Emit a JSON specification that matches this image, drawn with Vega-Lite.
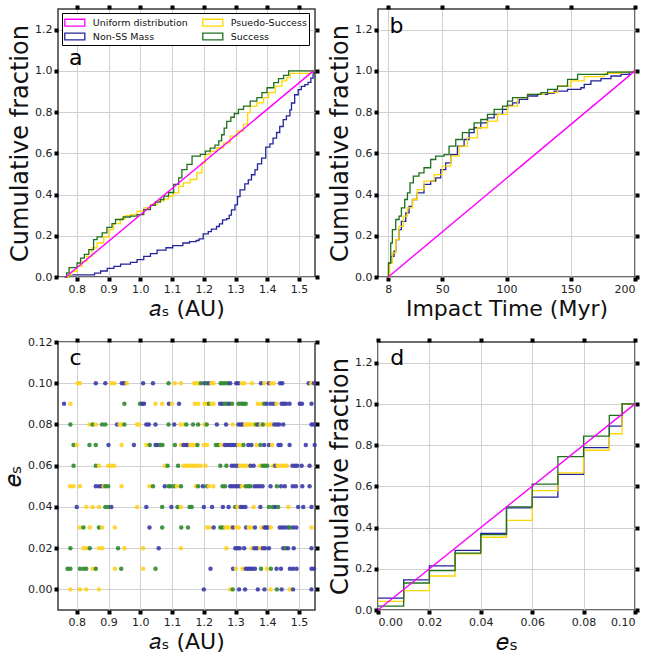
{
"$schema": "https://vega.github.io/schema/vega-lite/v6.json",
"padding": {"left": 0, "top": 2, "right": 0, "bottom": 0},
"background": "white",
"config": {
  "font": "DejaVu Sans",
  "view": {"stroke": "#3c3c3c", "strokeWidth": 1.5},
  "axis": {"labelFont": "DejaVu Sans", "labelFontSize": 11, "labelColor": "#222222", "titleFont": "DejaVu Sans", "titleFontWeight": "normal", "titleColor": "#111111", "gridColor": "#d0d0d0", "gridWidth": 1, "domain": false, "tickColor": "black", "tickSize": 4, "tickWidth": 4, "labelPadding": 2, "titlePadding": 2},
  "axisBottom": {"titlePadding": 4}
},
"datasets": {
  "cdfA": [
    {"x":0.762,"y":0,"series":"Non-SS Mass"},{"x":0.775,"y":0.010,"series":"Non-SS Mass"},{"x":0.856,"y":0.019,"series":"Non-SS Mass"},{"x":0.875,"y":0.029,"series":"Non-SS Mass"},{"x":0.896,"y":0.042,"series":"Non-SS Mass"},{"x":0.917,"y":0.052,"series":"Non-SS Mass"},{"x":0.938,"y":0.062,"series":"Non-SS Mass"},{"x":0.969,"y":0.071,"series":"Non-SS Mass"},{"x":0.990,"y":0.084,"series":"Non-SS Mass"},{"x":1.011,"y":0.100,"series":"Non-SS Mass"},{"x":1.032,"y":0.113,"series":"Non-SS Mass"},{"x":1.053,"y":0.130,"series":"Non-SS Mass"},{"x":1.081,"y":0.142,"series":"Non-SS Mass"},{"x":1.102,"y":0.152,"series":"Non-SS Mass"},{"x":1.134,"y":0.165,"series":"Non-SS Mass"},{"x":1.155,"y":0.172,"series":"Non-SS Mass"},{"x":1.176,"y":0.177,"series":"Non-SS Mass"},{"x":1.185,"y":0.185,"series":"Non-SS Mass"},{"x":1.198,"y":0.209,"series":"Non-SS Mass"},{"x":1.214,"y":0.220,"series":"Non-SS Mass"},{"x":1.224,"y":0.232,"series":"Non-SS Mass"},{"x":1.240,"y":0.245,"series":"Non-SS Mass"},{"x":1.249,"y":0.258,"series":"Non-SS Mass"},{"x":1.259,"y":0.277,"series":"Non-SS Mass"},{"x":1.272,"y":0.283,"series":"Non-SS Mass"},{"x":1.280,"y":0.300,"series":"Non-SS Mass"},{"x":1.287,"y":0.326,"series":"Non-SS Mass"},{"x":1.298,"y":0.350,"series":"Non-SS Mass"},{"x":1.306,"y":0.390,"series":"Non-SS Mass"},{"x":1.314,"y":0.423,"series":"Non-SS Mass"},{"x":1.329,"y":0.452,"series":"Non-SS Mass"},{"x":1.340,"y":0.471,"series":"Non-SS Mass"},{"x":1.350,"y":0.496,"series":"Non-SS Mass"},{"x":1.361,"y":0.520,"series":"Non-SS Mass"},{"x":1.369,"y":0.549,"series":"Non-SS Mass"},{"x":1.382,"y":0.577,"series":"Non-SS Mass"},{"x":1.395,"y":0.630,"series":"Non-SS Mass"},{"x":1.408,"y":0.646,"series":"Non-SS Mass"},{"x":1.418,"y":0.674,"series":"Non-SS Mass"},{"x":1.429,"y":0.701,"series":"Non-SS Mass"},{"x":1.439,"y":0.730,"series":"Non-SS Mass"},{"x":1.450,"y":0.763,"series":"Non-SS Mass"},{"x":1.460,"y":0.782,"series":"Non-SS Mass"},{"x":1.471,"y":0.811,"series":"Non-SS Mass"},{"x":1.476,"y":0.844,"series":"Non-SS Mass"},{"x":1.486,"y":0.884,"series":"Non-SS Mass"},{"x":1.497,"y":0.909,"series":"Non-SS Mass"},{"x":1.507,"y":0.925,"series":"Non-SS Mass"},{"x":1.518,"y":0.933,"series":"Non-SS Mass"},{"x":1.528,"y":0.944,"series":"Non-SS Mass"},{"x":1.537,"y":0.965,"series":"Non-SS Mass"},{"x":1.544,"y":0.990,"series":"Non-SS Mass"},{"x":1.549,"y":1.0,"series":"Non-SS Mass"},
    {"x":0.765,"y":0,"series":"Psuedo-Success"},{"x":0.775,"y":0.012,"series":"Psuedo-Success"},{"x":0.785,"y":0.027,"series":"Psuedo-Success"},{"x":0.801,"y":0.052,"series":"Psuedo-Success"},{"x":0.817,"y":0.076,"series":"Psuedo-Success"},{"x":0.832,"y":0.100,"series":"Psuedo-Success"},{"x":0.848,"y":0.141,"series":"Psuedo-Success"},{"x":0.864,"y":0.165,"series":"Psuedo-Success"},{"x":0.885,"y":0.194,"series":"Psuedo-Success"},{"x":0.901,"y":0.230,"series":"Psuedo-Success"},{"x":0.916,"y":0.259,"series":"Psuedo-Success"},{"x":0.937,"y":0.282,"series":"Psuedo-Success"},{"x":0.953,"y":0.298,"series":"Psuedo-Success"},{"x":0.969,"y":0.303,"series":"Psuedo-Success"},{"x":0.990,"y":0.319,"series":"Psuedo-Success"},{"x":1.011,"y":0.335,"series":"Psuedo-Success"},{"x":1.032,"y":0.351,"series":"Psuedo-Success"},{"x":1.053,"y":0.368,"series":"Psuedo-Success"},{"x":1.074,"y":0.379,"series":"Psuedo-Success"},{"x":1.089,"y":0.392,"series":"Psuedo-Success"},{"x":1.105,"y":0.408,"series":"Psuedo-Success"},{"x":1.121,"y":0.440,"series":"Psuedo-Success"},{"x":1.136,"y":0.457,"series":"Psuedo-Success"},{"x":1.157,"y":0.473,"series":"Psuedo-Success"},{"x":1.178,"y":0.505,"series":"Psuedo-Success"},{"x":1.194,"y":0.554,"series":"Psuedo-Success"},{"x":1.205,"y":0.594,"series":"Psuedo-Success"},{"x":1.220,"y":0.611,"series":"Psuedo-Success"},{"x":1.241,"y":0.627,"series":"Psuedo-Success"},{"x":1.262,"y":0.651,"series":"Psuedo-Success"},{"x":1.283,"y":0.683,"series":"Psuedo-Success"},{"x":1.304,"y":0.708,"series":"Psuedo-Success"},{"x":1.325,"y":0.740,"series":"Psuedo-Success"},{"x":1.338,"y":0.797,"series":"Psuedo-Success"},{"x":1.346,"y":0.829,"series":"Psuedo-Success"},{"x":1.367,"y":0.845,"series":"Psuedo-Success"},{"x":1.388,"y":0.870,"series":"Psuedo-Success"},{"x":1.404,"y":0.894,"series":"Psuedo-Success"},{"x":1.425,"y":0.926,"series":"Psuedo-Success"},{"x":1.446,"y":0.951,"series":"Psuedo-Success"},{"x":1.461,"y":0.967,"series":"Psuedo-Success"},{"x":1.472,"y":0.988,"series":"Psuedo-Success"},{"x":1.540,"y":1.0,"series":"Psuedo-Success"},{"x":1.55,"y":1.0,"series":"Psuedo-Success"},
    {"x":0.764,"y":0,"series":"Success"},{"x":0.768,"y":0.020,"series":"Success"},{"x":0.776,"y":0.045,"series":"Success"},{"x":0.801,"y":0.068,"series":"Success"},{"x":0.812,"y":0.092,"series":"Success"},{"x":0.824,"y":0.110,"series":"Success"},{"x":0.838,"y":0.133,"series":"Success"},{"x":0.853,"y":0.181,"series":"Success"},{"x":0.864,"y":0.195,"series":"Success"},{"x":0.880,"y":0.214,"series":"Success"},{"x":0.895,"y":0.241,"series":"Success"},{"x":0.911,"y":0.259,"series":"Success"},{"x":0.922,"y":0.279,"series":"Success"},{"x":0.946,"y":0.291,"series":"Success"},{"x":0.969,"y":0.295,"series":"Success"},{"x":0.990,"y":0.303,"series":"Success"},{"x":1.011,"y":0.327,"series":"Success"},{"x":1.032,"y":0.347,"series":"Success"},{"x":1.047,"y":0.363,"series":"Success"},{"x":1.063,"y":0.376,"series":"Success"},{"x":1.074,"y":0.392,"series":"Success"},{"x":1.089,"y":0.410,"series":"Success"},{"x":1.105,"y":0.449,"series":"Success"},{"x":1.121,"y":0.481,"series":"Success"},{"x":1.131,"y":0.521,"series":"Success"},{"x":1.147,"y":0.546,"series":"Success"},{"x":1.163,"y":0.586,"series":"Success"},{"x":1.189,"y":0.595,"series":"Success"},{"x":1.205,"y":0.611,"series":"Success"},{"x":1.220,"y":0.625,"series":"Success"},{"x":1.235,"y":0.640,"series":"Success"},{"x":1.247,"y":0.660,"series":"Success"},{"x":1.256,"y":0.690,"series":"Success"},{"x":1.264,"y":0.722,"series":"Success"},{"x":1.272,"y":0.755,"series":"Success"},{"x":1.285,"y":0.775,"series":"Success"},{"x":1.296,"y":0.793,"series":"Success"},{"x":1.309,"y":0.813,"series":"Success"},{"x":1.325,"y":0.829,"series":"Success"},{"x":1.346,"y":0.853,"series":"Success"},{"x":1.367,"y":0.870,"series":"Success"},{"x":1.383,"y":0.894,"series":"Success"},{"x":1.399,"y":0.918,"series":"Success"},{"x":1.420,"y":0.943,"series":"Success"},{"x":1.435,"y":0.962,"series":"Success"},{"x":1.451,"y":0.978,"series":"Success"},{"x":1.467,"y":1.0,"series":"Success"},{"x":1.55,"y":1.0,"series":"Success"}
  ],
  "uniA": [{"x":0.765,"y":0,"series":"Uniform distribution"},{"x":1.545,"y":1.0,"series":"Uniform distribution"}],
  "cdfB": [
    {"x":7.6,"y":0,"series":"Non-SS Mass"},{"x":8.6,"y":0.068,"series":"Non-SS Mass"},{"x":9.9,"y":0.1,"series":"Non-SS Mass"},{"x":12.5,"y":0.125,"series":"Non-SS Mass"},{"x":13.8,"y":0.181,"series":"Non-SS Mass"},{"x":16.4,"y":0.23,"series":"Non-SS Mass"},{"x":18.2,"y":0.27,"series":"Non-SS Mass"},{"x":21.6,"y":0.311,"series":"Non-SS Mass"},{"x":24.2,"y":0.343,"series":"Non-SS Mass"},{"x":26.8,"y":0.376,"series":"Non-SS Mass"},{"x":30.6,"y":0.408,"series":"Non-SS Mass"},{"x":35.8,"y":0.449,"series":"Non-SS Mass"},{"x":41,"y":0.465,"series":"Non-SS Mass"},{"x":44.9,"y":0.481,"series":"Non-SS Mass"},{"x":48.8,"y":0.521,"series":"Non-SS Mass"},{"x":52.7,"y":0.554,"series":"Non-SS Mass"},{"x":56.6,"y":0.594,"series":"Non-SS Mass"},{"x":61.8,"y":0.635,"series":"Non-SS Mass"},{"x":67,"y":0.667,"series":"Non-SS Mass"},{"x":70.9,"y":0.7,"series":"Non-SS Mass"},{"x":74.8,"y":0.724,"series":"Non-SS Mass"},{"x":80,"y":0.748,"series":"Non-SS Mass"},{"x":85.2,"y":0.772,"series":"Non-SS Mass"},{"x":90.4,"y":0.789,"series":"Non-SS Mass"},{"x":96.9,"y":0.813,"series":"Non-SS Mass"},{"x":100.8,"y":0.832,"series":"Non-SS Mass"},{"x":104.7,"y":0.845,"series":"Non-SS Mass"},{"x":109.9,"y":0.862,"series":"Non-SS Mass"},{"x":116.4,"y":0.878,"series":"Non-SS Mass"},{"x":124.2,"y":0.886,"series":"Non-SS Mass"},{"x":132,"y":0.891,"series":"Non-SS Mass"},{"x":137.1,"y":0.902,"series":"Non-SS Mass"},{"x":147.5,"y":0.91,"series":"Non-SS Mass"},{"x":157.9,"y":0.918,"series":"Non-SS Mass"},{"x":160.5,"y":0.934,"series":"Non-SS Mass"},{"x":165.7,"y":0.951,"series":"Non-SS Mass"},{"x":173.5,"y":0.962,"series":"Non-SS Mass"},{"x":181.3,"y":0.975,"series":"Non-SS Mass"},{"x":189.1,"y":0.983,"series":"Non-SS Mass"},{"x":195.6,"y":0.994,"series":"Non-SS Mass"},{"x":199.5,"y":1.0,"series":"Non-SS Mass"},{"x":200,"y":1.0,"series":"Non-SS Mass"},
    {"x":7.6,"y":0,"series":"Psuedo-Success"},{"x":9.1,"y":0.068,"series":"Psuedo-Success"},{"x":11.2,"y":0.117,"series":"Psuedo-Success"},{"x":13.8,"y":0.181,"series":"Psuedo-Success"},{"x":16.4,"y":0.246,"series":"Psuedo-Success"},{"x":19.7,"y":0.295,"series":"Psuedo-Success"},{"x":22.9,"y":0.335,"series":"Psuedo-Success"},{"x":26.8,"y":0.376,"series":"Psuedo-Success"},{"x":30.6,"y":0.424,"series":"Psuedo-Success"},{"x":35.8,"y":0.465,"series":"Psuedo-Success"},{"x":43.6,"y":0.497,"series":"Psuedo-Success"},{"x":50.1,"y":0.538,"series":"Psuedo-Success"},{"x":56.6,"y":0.586,"series":"Psuedo-Success"},{"x":63.1,"y":0.635,"series":"Psuedo-Success"},{"x":69.6,"y":0.675,"series":"Psuedo-Success"},{"x":77.4,"y":0.724,"series":"Psuedo-Success"},{"x":85.2,"y":0.756,"series":"Psuedo-Success"},{"x":93,"y":0.789,"series":"Psuedo-Success"},{"x":100.8,"y":0.829,"series":"Psuedo-Success"},{"x":108.6,"y":0.87,"series":"Psuedo-Success"},{"x":116.4,"y":0.886,"series":"Psuedo-Success"},{"x":129.4,"y":0.894,"series":"Psuedo-Success"},{"x":139.7,"y":0.926,"series":"Psuedo-Success"},{"x":150.1,"y":0.951,"series":"Psuedo-Success"},{"x":160.5,"y":0.972,"series":"Psuedo-Success"},{"x":176.1,"y":0.988,"series":"Psuedo-Success"},{"x":189.1,"y":0.994,"series":"Psuedo-Success"},{"x":200,"y":1.0,"series":"Psuedo-Success"},
    {"x":7.6,"y":0,"series":"Success"},{"x":8.1,"y":0.068,"series":"Success"},{"x":9.9,"y":0.165,"series":"Success"},{"x":11.2,"y":0.23,"series":"Success"},{"x":13.8,"y":0.279,"series":"Success"},{"x":16.4,"y":0.295,"series":"Success"},{"x":18.2,"y":0.335,"series":"Success"},{"x":20.8,"y":0.376,"series":"Success"},{"x":22.9,"y":0.408,"series":"Success"},{"x":24.9,"y":0.457,"series":"Success"},{"x":27.5,"y":0.489,"series":"Success"},{"x":31.9,"y":0.505,"series":"Success"},{"x":35.8,"y":0.53,"series":"Success"},{"x":41,"y":0.57,"series":"Success"},{"x":44.9,"y":0.586,"series":"Success"},{"x":51.4,"y":0.594,"series":"Success"},{"x":55.3,"y":0.635,"series":"Success"},{"x":60.5,"y":0.667,"series":"Success"},{"x":65.7,"y":0.7,"series":"Success"},{"x":70.9,"y":0.716,"series":"Success"},{"x":74.8,"y":0.748,"series":"Success"},{"x":80,"y":0.764,"series":"Success"},{"x":85.2,"y":0.789,"series":"Success"},{"x":90.4,"y":0.813,"series":"Success"},{"x":96.9,"y":0.829,"series":"Success"},{"x":100.8,"y":0.853,"series":"Success"},{"x":104.7,"y":0.87,"series":"Success"},{"x":116.4,"y":0.886,"series":"Success"},{"x":126.8,"y":0.894,"series":"Success"},{"x":132,"y":0.91,"series":"Success"},{"x":139.7,"y":0.926,"series":"Success"},{"x":147.5,"y":0.959,"series":"Success"},{"x":155.3,"y":0.983,"series":"Success"},{"x":178.7,"y":0.994,"series":"Success"},{"x":200,"y":1.0,"series":"Success"}
  ],
  "uniB": [{"x":8,"y":0,"series":"Uniform distribution"},{"x":200,"y":1.0,"series":"Uniform distribution"}],
  "cdfD": [
    {"x":0,"y":0.058,"series":"Non-SS Mass"},{"x":0.01,"y":0.146,"series":"Non-SS Mass"},{"x":0.02,"y":0.214,"series":"Non-SS Mass"},{"x":0.03,"y":0.289,"series":"Non-SS Mass"},{"x":0.04,"y":0.371,"series":"Non-SS Mass"},{"x":0.05,"y":0.495,"series":"Non-SS Mass"},{"x":0.06,"y":0.548,"series":"Non-SS Mass"},{"x":0.07,"y":0.658,"series":"Non-SS Mass"},{"x":0.08,"y":0.788,"series":"Non-SS Mass"},{"x":0.09,"y":0.892,"series":"Non-SS Mass"},{"x":0.095,"y":1.0,"series":"Non-SS Mass"},{"x":0.1,"y":1.0,"series":"Non-SS Mass"},
    {"x":0,"y":0.042,"series":"Psuedo-Success"},{"x":0.01,"y":0.094,"series":"Psuedo-Success"},{"x":0.02,"y":0.165,"series":"Psuedo-Success"},{"x":0.03,"y":0.272,"series":"Psuedo-Success"},{"x":0.04,"y":0.353,"series":"Psuedo-Success"},{"x":0.05,"y":0.435,"series":"Psuedo-Success"},{"x":0.06,"y":0.579,"series":"Psuedo-Success"},{"x":0.07,"y":0.665,"series":"Psuedo-Success"},{"x":0.08,"y":0.775,"series":"Psuedo-Success"},{"x":0.09,"y":0.855,"series":"Psuedo-Success"},{"x":0.095,"y":1.0,"series":"Psuedo-Success"},{"x":0.1,"y":1.0,"series":"Psuedo-Success"},
    {"x":0,"y":0.019,"series":"Success"},{"x":0.01,"y":0.131,"series":"Success"},{"x":0.02,"y":0.191,"series":"Success"},{"x":0.03,"y":0.276,"series":"Success"},{"x":0.04,"y":0.366,"series":"Success"},{"x":0.05,"y":0.5,"series":"Success"},{"x":0.06,"y":0.611,"series":"Success"},{"x":0.07,"y":0.744,"series":"Success"},{"x":0.08,"y":0.843,"series":"Success"},{"x":0.09,"y":0.944,"series":"Success"},{"x":0.095,"y":1.0,"series":"Success"},{"x":0.1,"y":1.0,"series":"Success"}
  ],
  "uniD": [{"x":0,"y":0,"series":"Uniform distribution"},{"x":0.1,"y":1.0,"series":"Uniform distribution"}],
  "scatter": [
    {"a":0.803,"e":0.10,"s":"Psuedo-Success"},{"a":0.810,"e":0.10,"s":"Psuedo-Success"},{"a":0.860,"e":0.10,"s":"Non-SS Mass"},{"a":0.890,"e":0.10,"s":"Non-SS Mass"},{"a":0.909,"e":0.10,"s":"Psuedo-Success"},{"a":0.918,"e":0.10,"s":"Psuedo-Success"},{"a":0.942,"e":0.10,"s":"Non-SS Mass"},{"a":0.950,"e":0.10,"s":"Non-SS Mass"},{"a":0.958,"e":0.10,"s":"Psuedo-Success"},{"a":1.009,"e":0.10,"s":"Non-SS Mass"},{"a":1.040,"e":0.10,"s":"Non-SS Mass"},{"a":1.089,"e":0.10,"s":"Success"},{"a":1.109,"e":0.10,"s":"Psuedo-Success"},{"a":1.128,"e":0.10,"s":"Psuedo-Success"},
    {"a":1.170,"e":0.10,"s":"Psuedo-Success"},{"a":1.177,"e":0.10,"s":"Psuedo-Success"},{"a":1.184,"e":0.10,"s":"Psuedo-Success"},{"a":1.191,"e":0.10,"s":"Success"},{"a":1.202,"e":0.10,"s":"Non-SS Mass"},{"a":1.209,"e":0.10,"s":"Success"},{"a":1.216,"e":0.10,"s":"Non-SS Mass"},{"a":1.224,"e":0.10,"s":"Psuedo-Success"},{"a":1.231,"e":0.10,"s":"Psuedo-Success"},{"a":1.253,"e":0.10,"s":"Success"},{"a":1.260,"e":0.10,"s":"Success"},{"a":1.268,"e":0.10,"s":"Success"},{"a":1.276,"e":0.10,"s":"Success"},{"a":1.283,"e":0.10,"s":"Non-SS Mass"},{"a":1.302,"e":0.10,"s":"Non-SS Mass"},{"a":1.309,"e":0.10,"s":"Non-SS Mass"},{"a":1.320,"e":0.10,"s":"Psuedo-Success"},{"a":1.328,"e":0.10,"s":"Psuedo-Success"},{"a":1.351,"e":0.10,"s":"Psuedo-Success"},{"a":1.380,"e":0.10,"s":"Non-SS Mass"},{"a":1.391,"e":0.10,"s":"Psuedo-Success"},{"a":1.405,"e":0.10,"s":"Non-SS Mass"},{"a":1.412,"e":0.10,"s":"Psuedo-Success"},{"a":1.420,"e":0.10,"s":"Psuedo-Success"},{"a":1.440,"e":0.10,"s":"Non-SS Mass"},{"a":1.447,"e":0.10,"s":"Non-SS Mass"},{"a":1.530,"e":0.10,"s":"Non-SS Mass"},{"a":1.538,"e":0.10,"s":"Psuedo-Success"},{"a":1.547,"e":0.10,"s":"Non-SS Mass"},
    {"a":0.760,"e":0.09,"s":"Non-SS Mass"},{"a":0.780,"e":0.09,"s":"Psuedo-Success"},{"a":0.950,"e":0.09,"s":"Success"},{"a":0.999,"e":0.09,"s":"Success"},{"a":1.006,"e":0.09,"s":"Non-SS Mass"},{"a":1.012,"e":0.09,"s":"Non-SS Mass"},{"a":1.048,"e":0.09,"s":"Psuedo-Success"},{"a":1.069,"e":0.09,"s":"Psuedo-Success"},{"a":1.090,"e":0.09,"s":"Non-SS Mass"},{"a":1.100,"e":0.09,"s":"Psuedo-Success"},{"a":1.122,"e":0.09,"s":"Non-SS Mass"},
    {"a":1.172,"e":0.09,"s":"Psuedo-Success"},{"a":1.182,"e":0.09,"s":"Psuedo-Success"},{"a":1.202,"e":0.09,"s":"Psuedo-Success"},{"a":1.209,"e":0.09,"s":"Psuedo-Success"},{"a":1.216,"e":0.09,"s":"Success"},{"a":1.224,"e":0.09,"s":"Psuedo-Success"},{"a":1.231,"e":0.09,"s":"Psuedo-Success"},{"a":1.251,"e":0.09,"s":"Non-SS Mass"},{"a":1.258,"e":0.09,"s":"Non-SS Mass"},{"a":1.266,"e":0.09,"s":"Success"},{"a":1.273,"e":0.09,"s":"Success"},{"a":1.280,"e":0.09,"s":"Non-SS Mass"},{"a":1.289,"e":0.09,"s":"Success"},{"a":1.309,"e":0.09,"s":"Success"},{"a":1.318,"e":0.09,"s":"Success"},{"a":1.325,"e":0.09,"s":"Success"},{"a":1.332,"e":0.09,"s":"Success"},{"a":1.370,"e":0.09,"s":"Psuedo-Success"},{"a":1.380,"e":0.09,"s":"Psuedo-Success"},{"a":1.390,"e":0.09,"s":"Success"},{"a":1.398,"e":0.09,"s":"Non-SS Mass"},{"a":1.410,"e":0.09,"s":"Non-SS Mass"},{"a":1.420,"e":0.09,"s":"Non-SS Mass"},{"a":1.429,"e":0.09,"s":"Psuedo-Success"},{"a":1.445,"e":0.09,"s":"Non-SS Mass"},{"a":1.452,"e":0.09,"s":"Non-SS Mass"},{"a":1.459,"e":0.09,"s":"Non-SS Mass"},{"a":1.470,"e":0.09,"s":"Non-SS Mass"},{"a":1.502,"e":0.09,"s":"Non-SS Mass"},{"a":1.509,"e":0.09,"s":"Non-SS Mass"},{"a":1.539,"e":0.09,"s":"Non-SS Mass"},
    {"a":0.780,"e":0.08,"s":"Success"},{"a":0.840,"e":0.08,"s":"Psuedo-Success"},{"a":0.850,"e":0.08,"s":"Success"},{"a":0.860,"e":0.08,"s":"Psuedo-Success"},{"a":0.880,"e":0.08,"s":"Success"},{"a":0.890,"e":0.08,"s":"Success"},{"a":0.927,"e":0.08,"s":"Non-SS Mass"},{"a":0.935,"e":0.08,"s":"Psuedo-Success"},{"a":0.941,"e":0.08,"s":"Psuedo-Success"},{"a":0.950,"e":0.08,"s":"Success"},{"a":0.990,"e":0.08,"s":"Psuedo-Success"},{"a":0.996,"e":0.08,"s":"Psuedo-Success"},{"a":1.019,"e":0.08,"s":"Non-SS Mass"},{"a":1.027,"e":0.08,"s":"Non-SS Mass"},{"a":1.048,"e":0.08,"s":"Non-SS Mass"},{"a":1.089,"e":0.08,"s":"Success"},{"a":1.107,"e":0.08,"s":"Non-SS Mass"},{"a":1.126,"e":0.08,"s":"Psuedo-Success"},{"a":1.138,"e":0.08,"s":"Psuedo-Success"},
    {"a":1.145,"e":0.08,"s":"Success"},{"a":1.166,"e":0.08,"s":"Success"},{"a":1.182,"e":0.08,"s":"Success"},{"a":1.202,"e":0.08,"s":"Psuedo-Success"},{"a":1.209,"e":0.08,"s":"Success"},{"a":1.241,"e":0.08,"s":"Non-SS Mass"},{"a":1.270,"e":0.08,"s":"Non-SS Mass"},{"a":1.291,"e":0.08,"s":"Psuedo-Success"},{"a":1.309,"e":0.08,"s":"Non-SS Mass"},{"a":1.316,"e":0.08,"s":"Non-SS Mass"},{"a":1.322,"e":0.08,"s":"Non-SS Mass"},{"a":1.330,"e":0.08,"s":"Psuedo-Success"},{"a":1.337,"e":0.08,"s":"Psuedo-Success"},{"a":1.344,"e":0.08,"s":"Psuedo-Success"},{"a":1.351,"e":0.08,"s":"Psuedo-Success"},{"a":1.358,"e":0.08,"s":"Psuedo-Success"},{"a":1.365,"e":0.08,"s":"Success"},{"a":1.372,"e":0.08,"s":"Non-SS Mass"},{"a":1.379,"e":0.08,"s":"Psuedo-Success"},{"a":1.386,"e":0.08,"s":"Success"},{"a":1.399,"e":0.08,"s":"Psuedo-Success"},{"a":1.407,"e":0.08,"s":"Psuedo-Success"},{"a":1.414,"e":0.08,"s":"Psuedo-Success"},{"a":1.422,"e":0.08,"s":"Non-SS Mass"},{"a":1.430,"e":0.08,"s":"Non-SS Mass"},{"a":1.437,"e":0.08,"s":"Non-SS Mass"},{"a":1.450,"e":0.08,"s":"Non-SS Mass"},{"a":1.539,"e":0.08,"s":"Non-SS Mass"},{"a":1.546,"e":0.08,"s":"Non-SS Mass"},
    {"a":0.790,"e":0.07,"s":"Success"},{"a":0.800,"e":0.07,"s":"Psuedo-Success"},{"a":0.840,"e":0.07,"s":"Success"},{"a":0.860,"e":0.07,"s":"Success"},{"a":0.900,"e":0.07,"s":"Non-SS Mass"},{"a":0.941,"e":0.07,"s":"Psuedo-Success"},{"a":0.980,"e":0.07,"s":"Non-SS Mass"},{"a":1.019,"e":0.07,"s":"Psuedo-Success"},{"a":1.030,"e":0.07,"s":"Success"},{"a":1.048,"e":0.07,"s":"Non-SS Mass"},{"a":1.055,"e":0.07,"s":"Non-SS Mass"},{"a":1.063,"e":0.07,"s":"Success"},{"a":1.070,"e":0.07,"s":"Success"},{"a":1.109,"e":0.07,"s":"Success"},{"a":1.128,"e":0.07,"s":"Psuedo-Success"},{"a":1.136,"e":0.07,"s":"Non-SS Mass"},
    {"a":1.143,"e":0.07,"s":"Non-SS Mass"},{"a":1.150,"e":0.07,"s":"Non-SS Mass"},{"a":1.157,"e":0.07,"s":"Psuedo-Success"},{"a":1.165,"e":0.07,"s":"Psuedo-Success"},{"a":1.172,"e":0.07,"s":"Psuedo-Success"},{"a":1.180,"e":0.07,"s":"Success"},{"a":1.200,"e":0.07,"s":"Psuedo-Success"},{"a":1.210,"e":0.07,"s":"Psuedo-Success"},{"a":1.238,"e":0.07,"s":"Success"},{"a":1.246,"e":0.07,"s":"Success"},{"a":1.254,"e":0.07,"s":"Psuedo-Success"},{"a":1.266,"e":0.07,"s":"Non-SS Mass"},{"a":1.273,"e":0.07,"s":"Non-SS Mass"},{"a":1.280,"e":0.07,"s":"Non-SS Mass"},{"a":1.287,"e":0.07,"s":"Non-SS Mass"},{"a":1.294,"e":0.07,"s":"Non-SS Mass"},{"a":1.302,"e":0.07,"s":"Non-SS Mass"},{"a":1.309,"e":0.07,"s":"Psuedo-Success"},{"a":1.318,"e":0.07,"s":"Psuedo-Success"},{"a":1.325,"e":0.07,"s":"Success"},{"a":1.340,"e":0.07,"s":"Non-SS Mass"},{"a":1.350,"e":0.07,"s":"Non-SS Mass"},{"a":1.366,"e":0.07,"s":"Psuedo-Success"},{"a":1.378,"e":0.07,"s":"Success"},{"a":1.390,"e":0.07,"s":"Non-SS Mass"},{"a":1.405,"e":0.07,"s":"Non-SS Mass"},{"a":1.415,"e":0.07,"s":"Psuedo-Success"},{"a":1.435,"e":0.07,"s":"Non-SS Mass"},{"a":1.442,"e":0.07,"s":"Non-SS Mass"},{"a":1.470,"e":0.07,"s":"Non-SS Mass"},{"a":1.521,"e":0.07,"s":"Non-SS Mass"},{"a":1.549,"e":0.07,"s":"Non-SS Mass"},
    {"a":0.790,"e":0.06,"s":"Success"},{"a":0.860,"e":0.06,"s":"Success"},{"a":0.870,"e":0.06,"s":"Psuedo-Success"},{"a":0.899,"e":0.06,"s":"Psuedo-Success"},{"a":0.909,"e":0.06,"s":"Psuedo-Success"},{"a":0.918,"e":0.06,"s":"Psuedo-Success"},{"a":1.077,"e":0.06,"s":"Psuedo-Success"},{"a":1.086,"e":0.06,"s":"Success"},{"a":1.119,"e":0.06,"s":"Success"},{"a":1.136,"e":0.06,"s":"Psuedo-Success"},
    {"a":1.143,"e":0.06,"s":"Psuedo-Success"},{"a":1.150,"e":0.06,"s":"Psuedo-Success"},{"a":1.157,"e":0.06,"s":"Psuedo-Success"},{"a":1.165,"e":0.06,"s":"Psuedo-Success"},{"a":1.172,"e":0.06,"s":"Psuedo-Success"},{"a":1.180,"e":0.06,"s":"Psuedo-Success"},{"a":1.190,"e":0.06,"s":"Psuedo-Success"},{"a":1.205,"e":0.06,"s":"Psuedo-Success"},{"a":1.252,"e":0.06,"s":"Success"},{"a":1.271,"e":0.06,"s":"Success"},{"a":1.288,"e":0.06,"s":"Non-SS Mass"},{"a":1.296,"e":0.06,"s":"Non-SS Mass"},{"a":1.305,"e":0.06,"s":"Non-SS Mass"},{"a":1.314,"e":0.06,"s":"Psuedo-Success"},{"a":1.322,"e":0.06,"s":"Psuedo-Success"},{"a":1.330,"e":0.06,"s":"Psuedo-Success"},{"a":1.338,"e":0.06,"s":"Psuedo-Success"},{"a":1.347,"e":0.06,"s":"Non-SS Mass"},{"a":1.357,"e":0.06,"s":"Non-SS Mass"},{"a":1.376,"e":0.06,"s":"Psuedo-Success"},{"a":1.385,"e":0.06,"s":"Success"},{"a":1.392,"e":0.06,"s":"Success"},{"a":1.400,"e":0.06,"s":"Success"},{"a":1.418,"e":0.06,"s":"Psuedo-Success"},{"a":1.425,"e":0.06,"s":"Non-SS Mass"},{"a":1.432,"e":0.06,"s":"Psuedo-Success"},{"a":1.440,"e":0.06,"s":"Psuedo-Success"},{"a":1.447,"e":0.06,"s":"Psuedo-Success"},{"a":1.455,"e":0.06,"s":"Psuedo-Success"},{"a":1.462,"e":0.06,"s":"Psuedo-Success"},{"a":1.479,"e":0.06,"s":"Non-SS Mass"},{"a":1.487,"e":0.06,"s":"Non-SS Mass"},{"a":1.494,"e":0.06,"s":"Non-SS Mass"},{"a":1.508,"e":0.06,"s":"Non-SS Mass"},{"a":1.533,"e":0.06,"s":"Non-SS Mass"},
    {"a":0.779,"e":0.05,"s":"Psuedo-Success"},{"a":0.790,"e":0.05,"s":"Psuedo-Success"},{"a":0.810,"e":0.05,"s":"Psuedo-Success"},{"a":0.860,"e":0.05,"s":"Non-SS Mass"},{"a":0.870,"e":0.05,"s":"Non-SS Mass"},{"a":0.878,"e":0.05,"s":"Non-SS Mass"},{"a":0.885,"e":0.05,"s":"Psuedo-Success"},{"a":0.890,"e":0.05,"s":"Success"},{"a":0.899,"e":0.05,"s":"Success"},{"a":0.941,"e":0.05,"s":"Psuedo-Success"},{"a":1.029,"e":0.05,"s":"Psuedo-Success"},{"a":1.040,"e":0.05,"s":"Success"},{"a":1.077,"e":0.05,"s":"Non-SS Mass"},{"a":1.089,"e":0.05,"s":"Success"},{"a":1.096,"e":0.05,"s":"Success"},{"a":1.107,"e":0.05,"s":"Success"},{"a":1.115,"e":0.05,"s":"Psuedo-Success"},{"a":1.128,"e":0.05,"s":"Success"},
    {"a":1.175,"e":0.05,"s":"Psuedo-Success"},{"a":1.182,"e":0.05,"s":"Success"},{"a":1.197,"e":0.05,"s":"Non-SS Mass"},{"a":1.210,"e":0.05,"s":"Success"},{"a":1.216,"e":0.05,"s":"Psuedo-Success"},{"a":1.230,"e":0.05,"s":"Psuedo-Success"},{"a":1.259,"e":0.05,"s":"Success"},{"a":1.267,"e":0.05,"s":"Success"},{"a":1.283,"e":0.05,"s":"Non-SS Mass"},{"a":1.290,"e":0.05,"s":"Non-SS Mass"},{"a":1.298,"e":0.05,"s":"Non-SS Mass"},{"a":1.305,"e":0.05,"s":"Non-SS Mass"},{"a":1.313,"e":0.05,"s":"Non-SS Mass"},{"a":1.320,"e":0.05,"s":"Psuedo-Success"},{"a":1.332,"e":0.05,"s":"Success"},{"a":1.340,"e":0.05,"s":"Success"},{"a":1.347,"e":0.05,"s":"Success"},{"a":1.360,"e":0.05,"s":"Non-SS Mass"},{"a":1.368,"e":0.05,"s":"Non-SS Mass"},{"a":1.376,"e":0.05,"s":"Non-SS Mass"},{"a":1.385,"e":0.05,"s":"Non-SS Mass"},{"a":1.410,"e":0.05,"s":"Non-SS Mass"},{"a":1.430,"e":0.05,"s":"Success"},{"a":1.443,"e":0.05,"s":"Non-SS Mass"},{"a":1.455,"e":0.05,"s":"Non-SS Mass"},{"a":1.480,"e":0.05,"s":"Non-SS Mass"},{"a":1.490,"e":0.05,"s":"Non-SS Mass"},{"a":1.510,"e":0.05,"s":"Non-SS Mass"},{"a":1.533,"e":0.05,"s":"Non-SS Mass"},
    {"a":0.800,"e":0.04,"s":"Non-SS Mass"},{"a":0.830,"e":0.04,"s":"Psuedo-Success"},{"a":0.850,"e":0.04,"s":"Psuedo-Success"},{"a":0.870,"e":0.04,"s":"Psuedo-Success"},{"a":0.890,"e":0.04,"s":"Success"},{"a":0.899,"e":0.04,"s":"Success"},{"a":0.909,"e":0.04,"s":"Non-SS Mass"},{"a":0.990,"e":0.04,"s":"Psuedo-Success"},{"a":1.019,"e":0.04,"s":"Non-SS Mass"},{"a":1.069,"e":0.04,"s":"Success"},{"a":1.098,"e":0.04,"s":"Non-SS Mass"},{"a":1.117,"e":0.04,"s":"Success"},{"a":1.128,"e":0.04,"s":"Psuedo-Success"},
    {"a":1.155,"e":0.04,"s":"Success"},{"a":1.162,"e":0.04,"s":"Success"},{"a":1.200,"e":0.04,"s":"Non-SS Mass"},{"a":1.226,"e":0.04,"s":"Non-SS Mass"},{"a":1.260,"e":0.04,"s":"Non-SS Mass"},{"a":1.278,"e":0.04,"s":"Non-SS Mass"},{"a":1.299,"e":0.04,"s":"Success"},{"a":1.306,"e":0.04,"s":"Psuedo-Success"},{"a":1.316,"e":0.04,"s":"Non-SS Mass"},{"a":1.323,"e":0.04,"s":"Non-SS Mass"},{"a":1.331,"e":0.04,"s":"Non-SS Mass"},{"a":1.357,"e":0.04,"s":"Psuedo-Success"},{"a":1.378,"e":0.04,"s":"Non-SS Mass"},{"a":1.405,"e":0.04,"s":"Success"},{"a":1.417,"e":0.04,"s":"Success"},{"a":1.425,"e":0.04,"s":"Non-SS Mass"},{"a":1.434,"e":0.04,"s":"Success"},{"a":1.466,"e":0.04,"s":"Psuedo-Success"},{"a":1.497,"e":0.04,"s":"Non-SS Mass"},{"a":1.513,"e":0.04,"s":"Non-SS Mass"},{"a":1.539,"e":0.04,"s":"Non-SS Mass"},
    {"a":0.810,"e":0.03,"s":"Psuedo-Success"},{"a":0.821,"e":0.03,"s":"Success"},{"a":0.841,"e":0.03,"s":"Psuedo-Success"},{"a":0.870,"e":0.03,"s":"Success"},{"a":0.880,"e":0.03,"s":"Psuedo-Success"},{"a":0.920,"e":0.03,"s":"Psuedo-Success"},{"a":1.029,"e":0.03,"s":"Non-SS Mass"},{"a":1.069,"e":0.03,"s":"Success"},{"a":1.129,"e":0.03,"s":"Success"},{"a":1.150,"e":0.03,"s":"Success"},
    {"a":1.210,"e":0.03,"s":"Psuedo-Success"},{"a":1.218,"e":0.03,"s":"Psuedo-Success"},{"a":1.231,"e":0.03,"s":"Non-SS Mass"},{"a":1.252,"e":0.03,"s":"Success"},{"a":1.260,"e":0.03,"s":"Success"},{"a":1.268,"e":0.03,"s":"Psuedo-Success"},{"a":1.276,"e":0.03,"s":"Psuedo-Success"},{"a":1.284,"e":0.03,"s":"Psuedo-Success"},{"a":1.292,"e":0.03,"s":"Non-SS Mass"},{"a":1.302,"e":0.03,"s":"Psuedo-Success"},{"a":1.310,"e":0.03,"s":"Psuedo-Success"},{"a":1.333,"e":0.03,"s":"Non-SS Mass"},{"a":1.341,"e":0.03,"s":"Psuedo-Success"},{"a":1.349,"e":0.03,"s":"Psuedo-Success"},{"a":1.361,"e":0.03,"s":"Non-SS Mass"},{"a":1.382,"e":0.03,"s":"Psuedo-Success"},{"a":1.391,"e":0.03,"s":"Non-SS Mass"},{"a":1.396,"e":0.03,"s":"Non-SS Mass"},{"a":1.401,"e":0.03,"s":"Non-SS Mass"},{"a":1.411,"e":0.03,"s":"Psuedo-Success"},{"a":1.439,"e":0.03,"s":"Non-SS Mass"},{"a":1.447,"e":0.03,"s":"Non-SS Mass"},{"a":1.455,"e":0.03,"s":"Non-SS Mass"},{"a":1.465,"e":0.03,"s":"Non-SS Mass"},{"a":1.471,"e":0.03,"s":"Success"},{"a":1.481,"e":0.03,"s":"Non-SS Mass"},{"a":1.491,"e":0.03,"s":"Non-SS Mass"},{"a":1.539,"e":0.03,"s":"Psuedo-Success"},
    {"a":0.780,"e":0.02,"s":"Success"},{"a":0.821,"e":0.02,"s":"Psuedo-Success"},{"a":0.830,"e":0.02,"s":"Psuedo-Success"},{"a":0.841,"e":0.02,"s":"Success"},{"a":0.870,"e":0.02,"s":"Psuedo-Success"},{"a":0.880,"e":0.02,"s":"Psuedo-Success"},{"a":0.930,"e":0.02,"s":"Success"},{"a":0.950,"e":0.02,"s":"Psuedo-Success"},{"a":1.009,"e":0.02,"s":"Psuedo-Success"},{"a":1.058,"e":0.02,"s":"Non-SS Mass"},{"a":1.128,"e":0.02,"s":"Psuedo-Success"},
    {"a":1.271,"e":0.02,"s":"Psuedo-Success"},{"a":1.299,"e":0.02,"s":"Non-SS Mass"},{"a":1.306,"e":0.02,"s":"Non-SS Mass"},{"a":1.313,"e":0.02,"s":"Non-SS Mass"},{"a":1.327,"e":0.02,"s":"Non-SS Mass"},{"a":1.351,"e":0.02,"s":"Psuedo-Success"},{"a":1.359,"e":0.02,"s":"Non-SS Mass"},{"a":1.367,"e":0.02,"s":"Non-SS Mass"},{"a":1.378,"e":0.02,"s":"Psuedo-Success"},{"a":1.386,"e":0.02,"s":"Non-SS Mass"},{"a":1.393,"e":0.02,"s":"Non-SS Mass"},{"a":1.405,"e":0.02,"s":"Non-SS Mass"},{"a":1.450,"e":0.02,"s":"Non-SS Mass"},{"a":1.458,"e":0.02,"s":"Success"},{"a":1.465,"e":0.02,"s":"Non-SS Mass"},{"a":1.483,"e":0.02,"s":"Non-SS Mass"},{"a":1.539,"e":0.02,"s":"Non-SS Mass"},
    {"a":0.771,"e":0.01,"s":"Success"},{"a":0.780,"e":0.01,"s":"Success"},{"a":0.810,"e":0.01,"s":"Success"},{"a":0.821,"e":0.01,"s":"Success"},{"a":0.830,"e":0.01,"s":"Success"},{"a":0.850,"e":0.01,"s":"Psuedo-Success"},{"a":0.860,"e":0.01,"s":"Success"},{"a":0.920,"e":0.01,"s":"Psuedo-Success"},{"a":0.940,"e":0.01,"s":"Success"},{"a":1.009,"e":0.01,"s":"Psuedo-Success"},{"a":1.048,"e":0.01,"s":"Success"},
    {"a":1.221,"e":0.01,"s":"Non-SS Mass"},{"a":1.292,"e":0.01,"s":"Non-SS Mass"},{"a":1.301,"e":0.01,"s":"Psuedo-Success"},{"a":1.322,"e":0.01,"s":"Psuedo-Success"},{"a":1.332,"e":0.01,"s":"Non-SS Mass"},{"a":1.339,"e":0.01,"s":"Non-SS Mass"},{"a":1.346,"e":0.01,"s":"Non-SS Mass"},{"a":1.353,"e":0.01,"s":"Non-SS Mass"},{"a":1.361,"e":0.01,"s":"Non-SS Mass"},{"a":1.380,"e":0.01,"s":"Success"},{"a":1.398,"e":0.01,"s":"Psuedo-Success"},{"a":1.411,"e":0.01,"s":"Success"},{"a":1.429,"e":0.01,"s":"Non-SS Mass"},{"a":1.443,"e":0.01,"s":"Non-SS Mass"},{"a":1.471,"e":0.01,"s":"Non-SS Mass"},{"a":1.481,"e":0.01,"s":"Non-SS Mass"},{"a":1.492,"e":0.01,"s":"Non-SS Mass"},{"a":1.539,"e":0.01,"s":"Non-SS Mass"},{"a":1.547,"e":0.01,"s":"Non-SS Mass"},
    {"a":0.780,"e":0.0,"s":"Psuedo-Success"},{"a":0.810,"e":0.0,"s":"Psuedo-Success"},{"a":0.830,"e":0.0,"s":"Psuedo-Success"},{"a":0.870,"e":0.0,"s":"Psuedo-Success"},
    {"a":1.200,"e":0.0,"s":"Non-SS Mass"},{"a":1.283,"e":0.0,"s":"Psuedo-Success"},{"a":1.291,"e":0.0,"s":"Success"},{"a":1.311,"e":0.0,"s":"Non-SS Mass"},{"a":1.330,"e":0.0,"s":"Non-SS Mass"},{"a":1.370,"e":0.0,"s":"Non-SS Mass"},{"a":1.391,"e":0.0,"s":"Non-SS Mass"},{"a":1.410,"e":0.0,"s":"Psuedo-Success"},{"a":1.430,"e":0.0,"s":"Success"},{"a":1.445,"e":0.0,"s":"Non-SS Mass"},{"a":1.471,"e":0.0,"s":"Psuedo-Success"},{"a":1.481,"e":0.0,"s":"Non-SS Mass"},{"a":1.539,"e":0.0,"s":"Non-SS Mass"}
  ]
},
"concat": [
  {
    "width": 257, "height": 268,
    "layer": [
      {
        "data": {"name": "cdfA"},
        "mark": {"type": "line", "interpolate": "step-after", "strokeWidth": 1.3},
        "encoding": {
          "x": {"field": "x", "type": "quantitative", "scale": {"domain": [0.741, 1.55], "nice": false, "zero": false}, "axis": {"orient": "bottom", "values": [0.8,0.9,1.0,1.1,1.2,1.3,1.4,1.5], "format": ".1f", "title": "𝑎ₛ (AU)", "titleFontSize": 22, "grid": true}},
          "y": {"field": "y", "type": "quantitative", "scale": {"domain": [0, 1.3], "nice": false}, "axis": {"orient": "left", "values": [0,0.2,0.4,0.6,0.8,1.0,1.2], "format": ".1f", "title": "Cumulative fraction", "titleFontSize": 24, "grid": true}},
          "color": {"field": "series", "type": "nominal", "scale": {"domain": ["Uniform distribution","Non-SS Mass","Psuedo-Success","Success"], "range": ["#ff00ff","#24249c","#ffd700","#1e701e"]},
            "legend": {"orient": "top-left", "offset": 4, "columns": 2, "title": null, "symbolType": "M-1.5,-0.52H1.5V0.52H-1.5Z", "symbolSize": 178, "symbolOffset": 3.3, "symbolStrokeWidth": 1.3, "symbolFillColor": "white", "labelFontSize": 9.5, "labelFont": "DejaVu Sans", "labelColor": "#111111", "strokeColor": "black", "fillColor": "white", "padding": 2, "columnPadding": 12, "rowPadding": 0, "labelOffset": 10.5, "cornerRadius": 0}}
        }
      },
      {
        "data": {"name": "uniA"},
        "mark": {"type": "line", "strokeWidth": 1.4},
        "encoding": {
          "x": {"field": "x", "type": "quantitative", "scale": {"domain": [0.741, 1.55], "nice": false, "zero": false}, "axis": null},
          "y": {"field": "y", "type": "quantitative", "scale": {"domain": [0, 1.3], "nice": false}, "axis": null},
          "color": {"field": "series", "type": "nominal", "scale": {"domain": ["Uniform distribution","Non-SS Mass","Psuedo-Success","Success"], "range": ["#ff00ff","#24249c","#ffd700","#1e701e"]}}
        }
      },
      {
        "data": {"values": [{"x": 0.776, "y": 1.03, "t": "a"}]},
        "mark": {"type": "text", "fontSize": 22, "align": "left", "baseline": "alphabetic", "font": "DejaVu Sans", "color": "black"},
        "encoding": {
          "x": {"field": "x", "type": "quantitative", "scale": {"domain": [0.741, 1.55], "nice": false, "zero": false}, "axis": {"orient": "top", "values": [0.8,0.9,1.0,1.1,1.2,1.3,1.4,1.5], "labels": false, "grid": false, "title": null}},
          "y": {"field": "y", "type": "quantitative", "scale": {"domain": [0, 1.3], "nice": false}, "axis": {"orient": "right", "values": [0,0.2,0.4,0.6,0.8,1.0,1.2], "labels": false, "grid": false, "title": null}},
          "text": {"field": "t"}
        }
      }
    ],
    "resolve": {"axis": {"x": "independent", "y": "independent"}}
  },
  {
    "width": 257, "height": 268,
    "layer": [
      {
        "data": {"name": "cdfB"},
        "mark": {"type": "line", "interpolate": "step-after", "strokeWidth": 1.3},
        "encoding": {
          "x": {"field": "x", "type": "quantitative", "scale": {"domain": [0, 200], "nice": false, "zero": false}, "axis": {"orient": "bottom", "values": [8,50,100,150,200], "format": "d", "title": "Impact Time (Myr)", "titleFontSize": 22, "grid": true}},
          "y": {"field": "y", "type": "quantitative", "scale": {"domain": [0, 1.3], "nice": false}, "axis": {"orient": "left", "values": [0,0.2,0.4,0.6,0.8,1.0,1.2], "format": ".1f", "title": "Cumulative fraction", "titleFontSize": 24, "grid": true}},
          "color": {"field": "series", "type": "nominal", "scale": {"domain": ["Uniform distribution","Non-SS Mass","Psuedo-Success","Success"], "range": ["#ff00ff","#24249c","#ffd700","#1e701e"]}, "legend": null}
        }
      },
      {
        "data": {"name": "uniB"},
        "mark": {"type": "line", "strokeWidth": 1.4},
        "encoding": {
          "x": {"field": "x", "type": "quantitative", "scale": {"domain": [0, 200], "nice": false, "zero": false}, "axis": null},
          "y": {"field": "y", "type": "quantitative", "scale": {"domain": [0, 1.3], "nice": false}, "axis": null},
          "color": {"field": "series", "type": "nominal", "scale": {"domain": ["Uniform distribution","Non-SS Mass","Psuedo-Success","Success"], "range": ["#ff00ff","#24249c","#ffd700","#1e701e"]}, "legend": null}
        }
      },
      {
        "data": {"values": [{"x": 9, "y": 1.185, "t": "b"}]},
        "mark": {"type": "text", "fontSize": 22, "align": "left", "baseline": "alphabetic", "font": "DejaVu Sans", "color": "black"},
        "encoding": {
          "x": {"field": "x", "type": "quantitative", "scale": {"domain": [0, 200], "nice": false, "zero": false}, "axis": {"orient": "top", "values": [8,50,100,150,200], "labels": false, "grid": false, "title": null}},
          "y": {"field": "y", "type": "quantitative", "scale": {"domain": [0, 1.3], "nice": false}, "axis": {"orient": "right", "values": [0,0.2,0.4,0.6,0.8,1.0,1.2], "labels": false, "grid": false, "title": null}},
          "text": {"field": "t"}
        }
      }
    ],
    "resolve": {"axis": {"x": "independent", "y": "independent"}}
  },
  {
    "width": 257, "height": 268,
    "layer": [
      {
        "data": {"name": "scatter"},
        "mark": {"type": "circle", "size": 20, "opacity": 0.9},
        "encoding": {
          "x": {"field": "a", "type": "quantitative", "scale": {"domain": [0.741, 1.55], "nice": false, "zero": false}, "axis": {"orient": "bottom", "values": [0.8,0.9,1.0,1.1,1.2,1.3,1.4,1.5], "format": ".1f", "title": "𝑎ₛ (AU)", "titleFontSize": 22, "grid": true}},
          "y": {"field": "e", "type": "quantitative", "scale": {"domain": [-0.01, 0.12], "nice": false, "zero": false}, "axis": {"orient": "left", "values": [0,0.02,0.04,0.06,0.08,0.1,0.12], "format": ".2f", "title": "𝑒ₛ", "titleFontSize": 24, "grid": true}},
          "color": {"field": "s", "type": "nominal", "scale": {"domain": ["Non-SS Mass","Psuedo-Success","Success"], "range": ["#3c3ca8","#ffd21f","#2f8a2f"]}, "legend": null}
        }
      },
      {
        "data": {"values": [{"x": 0.777, "y": 0.1087, "t": "c"}]},
        "mark": {"type": "text", "fontSize": 22, "align": "left", "baseline": "alphabetic", "font": "DejaVu Sans", "color": "black"},
        "encoding": {
          "x": {"field": "x", "type": "quantitative", "scale": {"domain": [0.741, 1.55], "nice": false, "zero": false}, "axis": {"orient": "top", "values": [0.8,0.9,1.0,1.1,1.2,1.3,1.4,1.5], "labels": false, "grid": false, "title": null}},
          "y": {"field": "y", "type": "quantitative", "scale": {"domain": [-0.01, 0.12], "nice": false, "zero": false}, "axis": {"orient": "right", "values": [0,0.02,0.04,0.06,0.08,0.1,0.12], "labels": false, "grid": false, "title": null}},
          "text": {"field": "t"}
        }
      }
    ],
    "resolve": {"axis": {"x": "independent", "y": "independent"}}
  },
  {
    "width": 257, "height": 268,
    "layer": [
      {
        "data": {"name": "cdfD"},
        "mark": {"type": "line", "interpolate": "step-after", "strokeWidth": 1.3},
        "encoding": {
          "x": {"field": "x", "type": "quantitative", "scale": {"domain": [0, 0.1], "nice": false, "zero": false}, "axis": {"orient": "bottom", "values": [0,0.02,0.04,0.06,0.08,0.1], "format": ".2f", "title": "𝑒ₛ", "titleFontSize": 24, "titlePadding": 3, "grid": true}},
          "y": {"field": "y", "type": "quantitative", "scale": {"domain": [0, 1.3], "nice": false}, "axis": {"orient": "left", "values": [0,0.2,0.4,0.6,0.8,1.0,1.2], "format": ".1f", "title": "Cumulative fraction", "titleFontSize": 24, "grid": true}},
          "color": {"field": "series", "type": "nominal", "scale": {"domain": ["Uniform distribution","Non-SS Mass","Psuedo-Success","Success"], "range": ["#ff00ff","#24249c","#ffd700","#1e701e"]}, "legend": null}
        }
      },
      {
        "data": {"name": "uniD"},
        "mark": {"type": "line", "strokeWidth": 1.4},
        "encoding": {
          "x": {"field": "x", "type": "quantitative", "scale": {"domain": [0, 0.1], "nice": false, "zero": false}, "axis": null},
          "y": {"field": "y", "type": "quantitative", "scale": {"domain": [0, 1.3], "nice": false}, "axis": null},
          "color": {"field": "series", "type": "nominal", "scale": {"domain": ["Uniform distribution","Non-SS Mass","Psuedo-Success","Success"], "range": ["#ff00ff","#24249c","#ffd700","#1e701e"]}, "legend": null}
        }
      },
      {
        "data": {"values": [{"x": 0.0048, "y": 1.189, "t": "d"}]},
        "mark": {"type": "text", "fontSize": 22, "align": "left", "baseline": "alphabetic", "font": "DejaVu Sans", "color": "black"},
        "encoding": {
          "x": {"field": "x", "type": "quantitative", "scale": {"domain": [0, 0.1], "nice": false, "zero": false}, "axis": {"orient": "top", "values": [0,0.02,0.04,0.06,0.08,0.1], "labels": false, "grid": false, "title": null}},
          "y": {"field": "y", "type": "quantitative", "scale": {"domain": [0, 1.3], "nice": false}, "axis": {"orient": "right", "values": [0,0.2,0.4,0.6,0.8,1.0,1.2], "labels": false, "grid": false, "title": null}},
          "text": {"field": "t"}
        }
      }
    ],
    "resolve": {"axis": {"x": "independent", "y": "independent"}}
  }
],
"columns": 2,
"spacing": {"row": 65, "column": 63},
"bounds": "flush",
"resolve": {"scale": {"color": "independent"}, "legend": {"color": "independent"}}
}
